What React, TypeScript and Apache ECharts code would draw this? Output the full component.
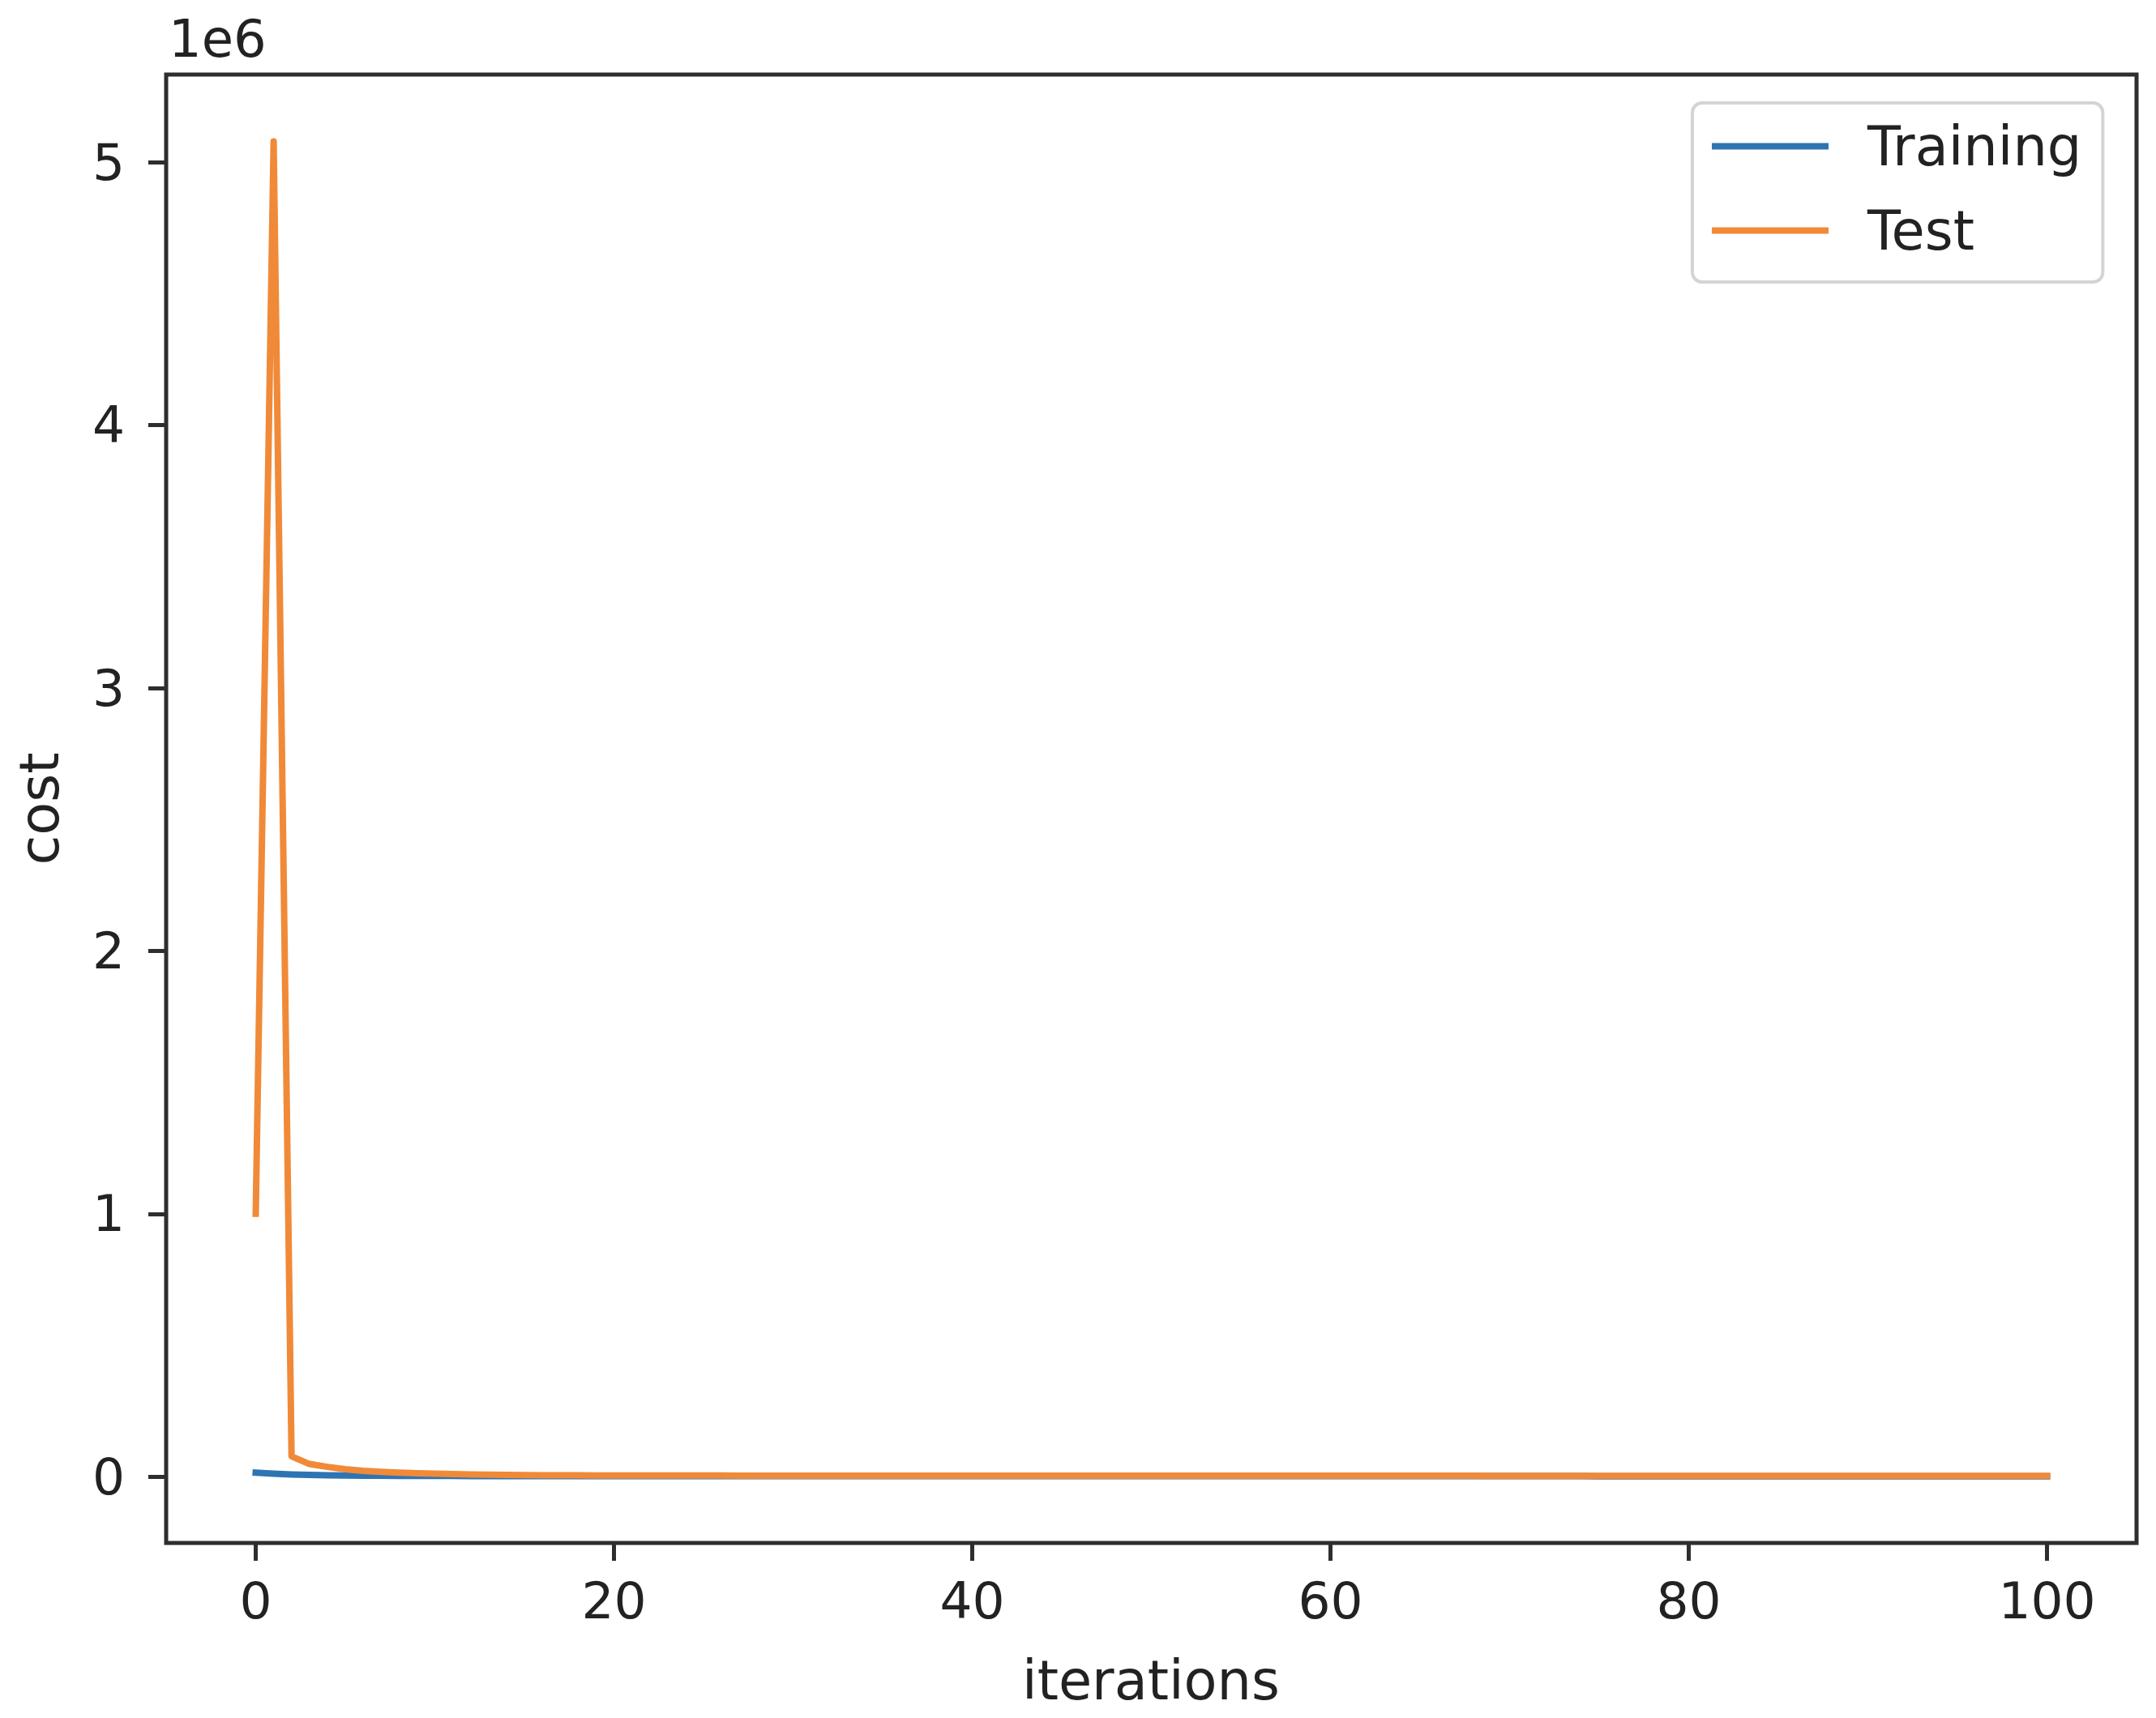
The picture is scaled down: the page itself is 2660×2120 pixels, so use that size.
import React, { useEffect, useRef } from "react";
import * as echarts from "echarts";

const iterations: number[] = Array.from({ length: 101 }, (_, i) => i);

const trainingCost: number[] = [
  15000, 11000, 8000, 6200, 5000, 4200, 3600, 3200, 2900, 2700,
  2500, 2400, 2300, 2200, 2100, 2050, 2000, 1980, 1960, 1940,
  1920, 1900, 1880, 1860, 1840, 1820, 1800, 1790, 1780, 1770,
  1760, 1750, 1740, 1730, 1720, 1710, 1700, 1695, 1690, 1685,
  1680, 1675, 1670, 1665, 1660, 1655, 1650, 1645, 1640, 1635,
  1630, 1625, 1620, 1615, 1610, 1605, 1600, 1598, 1596, 1594,
  1592, 1590, 1588, 1586, 1584, 1582, 1580, 1578, 1576, 1574,
  1572, 1570, 1568, 1566, 1564, 1562, 1560, 1558, 1556, 1554,
  1552, 1550, 1548, 1546, 1544, 1542, 1540, 1538, 1536, 1534,
  1532, 1530, 1528, 1526, 1524, 1522, 1520, 1518, 1516, 1514,
  1512,
];

const testCost: number[] = [
  1000000, 5080000, 77000, 48000, 37000, 28000, 22000, 18000, 15000, 13000,
  11000, 9500, 8200, 7200, 6400, 5800, 5300, 5000, 4800, 4600,
  4400, 4300, 4200, 4100, 4000, 3950, 3900, 3850, 3800, 3750,
  3700, 3650, 3600, 3550, 3500, 3480, 3460, 3440, 3420, 3400,
  3380, 3360, 3340, 3320, 3300, 3290, 3280, 3270, 3260, 3250,
  3240, 3230, 3220, 3210, 3200, 3190, 3180, 3170, 3160, 3150,
  3145, 3140, 3135, 3130, 3125, 3120, 3115, 3110, 3105, 3100,
  3095, 3090, 3085, 3080, 3075, 3070, 3065, 3060, 3055, 3050,
  3045, 3040, 3035, 3030, 3025, 3020, 3015, 3010, 3005, 3000,
  2995, 2990, 2985, 2980, 2975, 2970, 2965, 2960, 2955, 2950,
  2945,
];

const seriesNames: string[] = ["Training", "Test"];
const xTicks: number[] = [0, 20, 40, 60, 80, 100];
const xTickLabels: string[] = ["0", "20", "40", "60", "80", "100"];
const yTicks: number[] = [0, 1000000, 2000000, 3000000, 4000000, 5000000];
const yTickLabels: string[] = ["0", "1", "2", "3", "4", "5"];
const xAxisTitle = "iterations";
const yAxisTitle = "cost";
const yOffsetText = "1e6";

const FONT = "DejaVu Sans";
const TEXT_COLOR = "#222222";
const FRAME_COLOR = "#2e2e2e";
const BLUE = "#2f74b2";
const ORANGE = "#f08a38";

export default function App() {
  const ref = useRef<HTMLDivElement | null>(null);

  useEffect(() => {
    document.body.style.margin = "0";
    if (!ref.current) return;
    const chart = echarts.init(ref.current, undefined, { renderer: "svg" });

    const trainData = iterations.map((x, i) => [x, trainingCost[i]]);
    const testData = iterations.map((x, i) => [x, testCost[i]]);

    chart.setOption({
      animation: false,
      backgroundColor: "#ffffff",
      textStyle: { fontFamily: FONT },
      grid: {
        left: 205,
        top: 92,
        width: 2431,
        height: 1812,
        show: true,
        borderColor: FRAME_COLOR,
        borderWidth: 5,
        backgroundColor: "transparent",
        containLabel: false,
      },
      legend: {
        left: 2088,
        top: 127,
        orient: "vertical",
        icon: "rect",
        itemWidth: 144,
        itemHeight: 8,
        itemGap: 37,
        padding: [20, 26, 30, 24],
        backgroundColor: "#ffffff",
        borderColor: "#d4d4d4",
        borderWidth: 4,
        borderRadius: 12,
        textStyle: {
          fontFamily: FONT,
          fontSize: 67,
          color: TEXT_COLOR,
          padding: [0, 0, 0, 43],
        },
        data: seriesNames,
      },
      xAxis: {
        type: "value",
        min: -5,
        max: 105,
        splitLine: { show: false },
        axisLine: { show: false, onZero: false },
        axisTick: {
          show: true,
          inside: false,
          length: 22,
          customValues: xTicks,
          lineStyle: { color: FRAME_COLOR, width: 5 },
        },
        axisLabel: {
          customValues: xTicks,
          formatter: (v: number) => {
            const k = xTicks.indexOf(v);
            return k >= 0 ? xTickLabels[k] : "";
          },
          fontFamily: FONT,
          fontSize: 63,
          color: TEXT_COLOR,
          margin: 40,
        },
      },
      yAxis: {
        type: "value",
        min: -252400,
        max: 5334000,
        splitLine: { show: false },
        axisLine: { show: false, onZero: false },
        axisTick: {
          show: true,
          inside: false,
          length: 22,
          customValues: yTicks,
          lineStyle: { color: FRAME_COLOR, width: 5 },
        },
        axisLabel: {
          customValues: yTicks,
          formatter: (v: number) => {
            const k = yTicks.indexOf(v);
            return k >= 0 ? yTickLabels[k] : "";
          },
          fontFamily: FONT,
          fontSize: 63,
          color: TEXT_COLOR,
          margin: 51,
        },
      },
      series: [
        {
          name: seriesNames[0],
          type: "line",
          data: trainData,
          symbol: "none",
          showSymbol: false,
          color: BLUE,
          lineStyle: { color: BLUE, width: 8, join: "round", cap: "square" },
          z: 2,
        },
        {
          name: seriesNames[1],
          type: "line",
          data: testData,
          symbol: "none",
          showSymbol: false,
          color: ORANGE,
          lineStyle: { color: ORANGE, width: 8, join: "round", cap: "square" },
          z: 3,
        },
      ],
      graphic: [
        {
          type: "text",
          x: 1420,
          y: 2074,
          style: {
            text: xAxisTitle,
            fontFamily: FONT,
            fontSize: 67,
            fill: TEXT_COLOR,
            align: "center",
            verticalAlign: "middle",
          },
        },
        {
          type: "text",
          x: 49,
          y: 998,
          rotation: Math.PI / 2,
          style: {
            text: yAxisTitle,
            fontFamily: FONT,
            fontSize: 67,
            fill: TEXT_COLOR,
            align: "center",
            verticalAlign: "middle",
          },
        },
        {
          type: "text",
          x: 208,
          y: 48,
          style: {
            text: yOffsetText,
            fontFamily: FONT,
            fontSize: 64,
            fill: TEXT_COLOR,
            align: "left",
            verticalAlign: "middle",
          },
        },
      ],
    });

    return () => {
      chart.dispose();
    };
  }, []);

  return <div ref={ref} style={{ width: 2660, height: 2120 }} />;
}
